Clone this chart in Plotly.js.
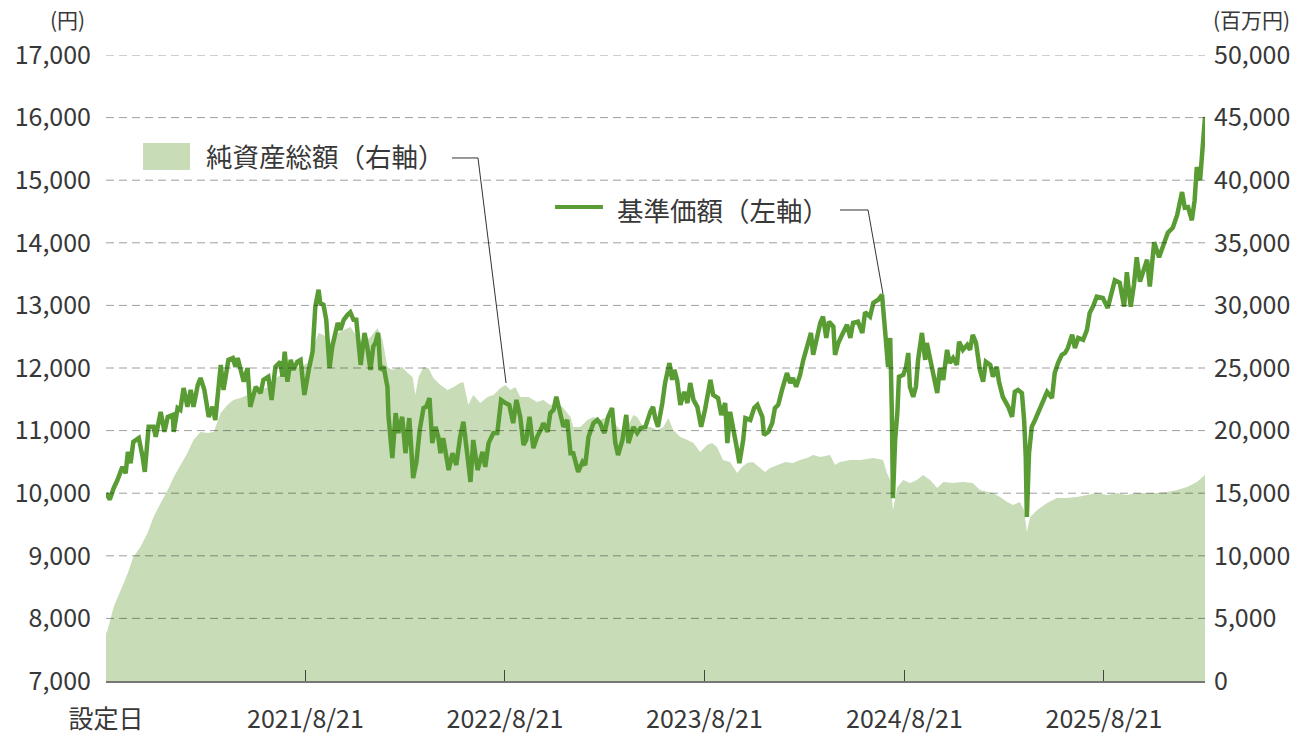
<!DOCTYPE html>
<html>
<head>
<meta charset="utf-8">
<script src="https://cdn.plot.ly/plotly-3.0.1.min.js"></script>
<style>
html,body{margin:0;padding:0;background:#fff;}
#chart{width:1298px;height:736px;}
</style>
</head>
<body>
<div id="chart"></div>
<script>
// 基準価額（左軸, 円）
const navDates = [
'2020-08-21','2020-08-28','2020-09-04','2020-09-11','2020-09-20','2020-09-26','2020-09-30','2020-10-05','2020-10-10','2020-10-20',
'2020-10-27','2020-10-31','2020-11-07','2020-11-16','2020-11-20','2020-11-29','2020-12-06','2020-12-12','2020-12-21','2020-12-23',
'2020-12-30','2021-01-04','2021-01-10','2021-01-17','2021-01-23','2021-01-28','2021-02-05','2021-02-10','2021-02-17','2021-02-25',
'2021-03-04','2021-03-09','2021-03-19','2021-03-24','2021-04-02','2021-04-10','2021-04-15','2021-04-19','2021-04-30','2021-05-07',
'2021-05-12','2021-05-22','2021-05-31','2021-06-05','2021-06-14','2021-06-20','2021-06-27','2021-07-06','2021-07-10','2021-07-14',
'2021-07-19','2021-07-25','2021-07-30','2021-08-06','2021-08-12','2021-08-19','2021-08-27','2021-09-03','2021-09-08','2021-09-14',
'2021-09-17','2021-09-23','2021-09-28','2021-10-04','2021-10-09','2021-10-15','2021-10-19','2021-10-24','2021-10-30','2021-11-06',
'2021-11-11','2021-11-17','2021-11-22','2021-11-30','2021-12-07','2021-12-12','2021-12-18','2021-12-23','2021-12-27','2022-01-01',
'2022-01-05','2022-01-11','2022-01-18','2022-01-20','2022-01-27','2022-02-02','2022-02-07','2022-02-14','2022-02-20','2022-02-27',
'2022-03-06','2022-03-12','2022-03-18','2022-03-25','2022-03-30','2022-04-05','2022-04-10','2022-04-16','2022-04-21','2022-04-25',
'2022-04-30','2022-05-10','2022-05-17','2022-05-24','2022-05-31','2022-06-06','2022-06-13','2022-06-19','2022-06-24','2022-07-02',
'2022-07-11','2022-07-16','2022-07-22','2022-07-31','2022-08-07','2022-08-14','2022-08-22','2022-08-29','2022-09-05','2022-09-11',
'2022-09-18','2022-09-24','2022-09-29','2022-10-05','2022-10-12','2022-10-19','2022-10-27','2022-10-30','2022-11-07','2022-11-12',
'2022-11-18','2022-11-23','2022-11-30','2022-12-06','2022-12-13','2022-12-19','2022-12-24','2023-01-02','2023-01-10','2023-01-15',
'2023-01-21','2023-01-30','2023-02-06','2023-02-11','2023-02-19','2023-02-26','2023-03-05','2023-03-11','2023-03-16','2023-03-24',
'2023-03-31','2023-04-04','2023-04-13','2023-04-20','2023-04-26','2023-05-05','2023-05-14','2023-05-19','2023-05-23','2023-05-28',
'2023-06-05','2023-06-10','2023-06-18','2023-06-23','2023-06-27','2023-07-02','2023-07-08','2023-07-15','2023-07-21','2023-07-26',
'2023-08-01','2023-08-08','2023-08-15','2023-08-22','2023-09-01','2023-09-06','2023-09-15','2023-09-21','2023-09-28','2023-10-02',
'2023-10-07','2023-10-15','2023-10-20','2023-10-24','2023-10-31','2023-11-04','2023-11-13','2023-11-20','2023-11-26','2023-12-05',
'2023-12-08','2023-12-16','2023-12-23','2023-12-28','2024-01-03','2024-01-10','2024-01-19','2024-01-25','2024-01-30','2024-02-05',
'2024-02-12','2024-02-18','2024-02-25','2024-03-03','2024-03-07','2024-03-14','2024-03-20','2024-03-25','2024-03-31','2024-04-05',
'2024-04-13','2024-04-16','2024-04-22','2024-04-29','2024-05-08','2024-05-14','2024-05-19','2024-05-28','2024-06-05','2024-06-10',
'2024-06-16','2024-06-19','2024-06-25','2024-07-04','2024-07-11','2024-07-13','2024-07-18','2024-07-22','2024-07-26','2024-07-29',
'2024-07-31','2024-08-04','2024-08-08','2024-08-11','2024-08-19','2024-08-24','2024-08-28','2024-08-31','2024-09-06','2024-09-11',
'2024-09-15','2024-09-22','2024-09-28','2024-10-01','2024-10-07','2024-10-12','2024-10-20','2024-10-25','2024-10-31','2024-11-07',
'2024-11-12','2024-11-18','2024-11-25','2024-11-29','2024-12-06','2024-12-14','2024-12-19','2024-12-24','2024-12-30','2025-01-06',
'2025-01-12','2025-01-17','2025-01-25','2025-01-30','2025-02-06','2025-02-10','2025-02-17','2025-02-27','2025-03-06','2025-03-11',
'2025-03-17','2025-03-24','2025-03-28','2025-03-31','2025-04-02','2025-04-06','2025-04-11','2025-04-17','2025-04-26','2025-05-03',
'2025-05-09','2025-05-18','2025-05-23','2025-05-29','2025-06-05','2025-06-11','2025-06-16','2025-06-24','2025-06-29','2025-07-05',
'2025-07-14','2025-07-21','2025-07-26','2025-08-01','2025-08-08','2025-08-19','2025-08-28','2025-09-10','2025-09-19','2025-09-27',
'2025-10-02','2025-10-09','2025-10-15','2025-10-20','2025-10-26','2025-11-02','2025-11-08','2025-11-13','2025-11-21','2025-11-30',
'2025-12-09','2025-12-16','2025-12-25','2026-01-02','2026-01-11','2026-01-16','2026-01-22','2026-01-29','2026-02-03','2026-02-07',
'2026-02-13','2026-02-16','2026-02-18','2026-02-20','2026-02-22'
];
const navValues = [
10000,9900,10080,10210,10420,10320,10660,10480,10820,10880,
10580,10340,11060,11060,10900,11300,10980,11220,11250,10980,
11360,11330,11680,11380,11650,11380,11730,11840,11650,11220,
11380,11170,12050,11650,12130,12160,12020,12160,11780,12000,
11380,11700,11600,11810,11860,11490,12020,12100,11860,12260,
11780,12130,11970,12100,12130,11570,11970,12260,12980,13250,
13040,13010,12770,12000,12340,12530,12720,12610,12770,12850,
12890,12770,12770,12050,12560,12340,11970,12340,12400,12560,
11970,12020,11700,11220,10560,11280,10960,11220,10640,11200,
10240,10500,11010,11360,11380,11520,10800,11060,10900,10640,
10880,10370,10640,10450,10900,11140,10580,10180,10850,10370,
10660,10420,10800,10960,10960,11490,11440,11410,11120,11490,
11220,10770,10850,11220,10720,10900,11040,11120,10980,11280,
11330,11540,11280,11060,11170,10640,10640,10340,10500,10450,
10900,11120,11170,11120,10960,11220,11360,10800,10610,10850,
11250,10800,11060,10960,11040,11060,11300,11380,11200,11060,
11440,11760,12080,11810,11970,11810,11410,11620,11440,11760,
11490,11380,11060,11330,11810,11570,11520,11250,11440,10800,
11300,10960,10690,10480,10850,11200,11170,11360,11410,11220,
10930,10980,11120,11360,11410,11650,11920,11760,11840,11700,
11890,12130,12340,12560,12210,12480,12720,12820,12480,12740,
12660,12210,12400,12530,12690,12480,12720,12740,12560,12890,
12850,12820,13040,13090,13170,12880,12450,12020,12480,11280,
9920,10850,11280,11860,11890,12020,12240,11700,11540,11700,
12130,12560,12130,12400,12130,11970,11600,12000,11810,12290,
12080,12160,12050,12420,12290,12370,12290,12530,12400,11970,
11780,12100,12050,11860,12020,11780,11540,11380,11220,11620,
11650,11600,11170,10580,9620,10640,11060,11170,11360,11490,
11620,11520,11920,12080,12210,12240,12320,12530,12320,12480,
12450,12610,12880,12980,13140,13120,12960,13400,13360,12980,
13530,12980,13330,13770,13380,13570,13730,13300,14010,13770,
14000,14160,14240,14440,14810,14560,14570,14360,14680,15210,
15000,15430,15480,15960,16010
];

// 純資産総額（右軸, 百万円）
const aumDates = [
'2020-08-21','2020-08-24','2020-09-04','2020-09-17','2020-09-30','2020-10-10','2020-10-23','2020-11-05','2020-11-16','2020-11-29',
'2020-12-12','2020-12-23','2021-01-04','2021-01-17','2021-01-28','2021-02-10','2021-02-23','2021-03-06','2021-03-19','2021-03-31',
'2021-04-11','2021-04-24','2021-05-07','2021-05-18','2021-05-31','2021-06-13','2021-06-24','2021-07-06','2021-07-19','2021-07-30',
'2021-08-12','2021-08-25','2021-09-05','2021-09-14','2021-09-23','2021-10-06','2021-10-19','2021-10-30','2021-11-11','2021-11-24',
'2021-12-05','2021-12-18','2021-12-31','2022-01-09','2022-01-18','2022-01-27','2022-02-05','2022-02-14','2022-02-24','2022-03-05',
'2022-03-10','2022-03-16','2022-03-25','2022-04-03','2022-04-12','2022-04-25','2022-05-08','2022-05-19','2022-05-31','2022-06-06',
'2022-06-15','2022-06-24','2022-07-07','2022-07-20','2022-07-31','2022-08-13','2022-08-22','2022-08-31','2022-09-09','2022-09-18',
'2022-10-03','2022-10-19','2022-10-30','2022-11-12','2022-11-25','2022-12-06','2022-12-19','2022-12-24','2023-01-06','2023-01-19',
'2023-01-30','2023-02-11','2023-02-24','2023-03-07','2023-03-20','2023-04-02','2023-04-13','2023-04-20','2023-05-01','2023-05-14',
'2023-05-27','2023-06-07','2023-06-16','2023-06-25','2023-07-08','2023-07-21','2023-08-01','2023-08-13','2023-08-26','2023-09-04',
'2023-09-13','2023-09-24','2023-10-07','2023-10-20','2023-10-29','2023-11-07','2023-11-18','2023-12-01','2023-12-10','2023-12-19',
'2024-01-01','2024-01-16','2024-01-30','2024-02-12','2024-02-25','2024-03-07','2024-03-20','2024-04-07','2024-04-16','2024-04-25',
'2024-05-14','2024-06-01','2024-06-25','2024-07-13','2024-07-20','2024-07-26','2024-07-31','2024-08-08','2024-08-19','2024-08-31',
'2024-09-13','2024-09-24','2024-10-07','2024-10-20','2024-10-31','2024-11-18','2024-12-06','2024-12-24','2025-01-06','2025-01-19',
'2025-01-30','2025-02-12','2025-02-25','2025-03-08','2025-03-20','2025-03-28','2025-04-02','2025-04-08','2025-04-21','2025-05-09',
'2025-05-27','2025-06-14','2025-07-03','2025-07-21','2025-08-08','2025-08-27','2025-09-14','2025-10-02','2025-10-20','2025-11-08',
'2025-11-26','2025-12-14','2026-01-02','2026-01-20','2026-02-07','2026-02-22'
];
const aumValues = [
3800,4070,5910,7270,8630,9900,10700,11820,13100,14220,
15250,16290,17250,18210,19250,19890,19810,19890,21400,22040,
22440,22600,22840,23000,23240,23480,24040,24440,24680,25000,
25080,25400,26680,27790,27630,27080,27790,28030,28270,27470,
27000,27470,28190,27240,25080,24840,25000,25080,24600,24280,
22840,24280,25080,25000,24200,23640,23240,23480,23800,23880,
22040,22840,22200,22680,22840,23400,23640,23240,23480,22680,
22680,22280,22440,22040,22200,21800,21090,20290,20290,20850,
21090,20850,21090,20690,20050,20290,21250,21090,20290,20290,
20050,20290,21010,20050,19490,19250,19010,18290,18850,19010,
18690,17650,17490,16610,17090,17410,17490,17010,16690,17010,
17250,17490,17410,17650,17810,18050,17890,18050,17250,17490,
17650,17650,17810,17650,16610,16050,13660,15500,16050,15810,
16050,16450,16050,15410,15890,15810,15890,15810,15250,15100,
15020,14700,14300,14060,14300,13660,11900,13100,13660,14220,
14620,14620,14700,14860,15020,14860,15020,14860,15020,15020,
15020,15100,15250,15500,15890,16450
];

const leftTicks = [7000,8000,9000,10000,11000,12000,13000,14000,15000,16000,17000];
const rightTicks = [0,5000,10000,15000,20000,25000,30000,35000,40000,45000,50000];
const xTickDates = ['2020-08-21','2021-08-21','2022-08-21','2023-08-21','2024-08-21','2025-08-21'];
const xTickLabels = ['設定日','2021/8/21','2022/8/21','2023/8/21','2024/8/21','2025/8/21'];
const seriesNames = ['純資産総額（右軸）','基準価額（左軸）'];
const unitLeft = '(円)';
const unitRight = '(百万円)';

const FONT = '"Noto Sans CJK JP", "Noto Sans", sans-serif';
const TXT = '#383838';
const GREEN = '#5a9c34';
const AREA = '#c8dcb8';

const traces = [
  {
    x: aumDates, y: aumValues, yaxis: 'y', xaxis: 'x',
    type: 'scatter', mode: 'lines', fill: 'tozeroy',
    line: {width: 0, color: AREA}, fillcolor: AREA,
    name: seriesNames[0], hoverinfo: 'skip'
  },
  {
    x: navDates, y: navValues, yaxis: 'y2', xaxis: 'x',
    type: 'scatter', mode: 'lines',
    line: {width: 4.5, color: GREEN, shape: 'linear'},
    name: seriesNames[1], hoverinfo: 'skip'
  }
];

const shapes = [];
leftTicks.slice(1).forEach(v => {
  shapes.push({type:'line', xref:'paper', yref:'y2', x0:0, x1:1, y0:v, y1:v,
    line:{color:'rgba(0,0,0,0.38)', width:1, dash:'8px,5px'}, layer:'above'});
});
// legend swatches
shapes.push({type:'rect', xref:'paper', yref:'paper', x0:0.0337, x1:0.0764, y0:0.8163, y1:0.8594,
  fillcolor: AREA, line:{width:0}});
shapes.push({type:'line', xref:'paper', yref:'paper', x0:0.4086, x1:0.4522, y0:0.7572, y1:0.7572,
  line:{color:GREEN, width:4}});
// leader lines
shapes.push({type:'path', xref:'paper', yref:'paper',
  path:'M 0.3148 0.8355 L 0.3385 0.8355 L 0.3640 0.4760', line:{color:'#333', width:1}});
shapes.push({type:'path', xref:'paper', yref:'paper',
  path:'M 0.6679 0.7524 L 0.6934 0.7524 L 0.7070 0.6182', line:{color:'#333', width:1}});

const annotations = [
  {xref:'paper', yref:'paper', x:0.0892, y:0.8387, xanchor:'left', yanchor:'middle', showarrow:false,
   text: seriesNames[0], font:{family:FONT, size:26.5, color:TXT}},
  {xref:'paper', yref:'paper', x:0.463, y:0.7524, xanchor:'left', yanchor:'middle', showarrow:false,
   text: seriesNames[1], font:{family:FONT, size:26.5, color:TXT}},
  {xref:'paper', yref:'paper', x:-0.0173, y:1.057, xanchor:'right', yanchor:'middle', showarrow:false,
   text: unitLeft, font:{family:FONT, size:21, color:TXT}},
  {xref:'paper', yref:'paper', x:1.0055, y:1.057, xanchor:'left', yanchor:'middle', showarrow:false,
   text: unitRight, font:{family:FONT, size:21, color:TXT}}
];

const yTickFont = {family: FONT, size: 25, color: TXT};
const xTickFont = {family: FONT, size: 25, color: TXT};

const layout = {
  width: 1298, height: 736,
  margin: {l:106, r:93, t:55, b:55, pad:0},
  paper_bgcolor: '#ffffff', plot_bgcolor: '#ffffff',
  showlegend: false,
  font: {family: FONT, color: TXT},
  xaxis: {
    type: 'date', range: ['2020-08-21', '2026-02-22'],
    tickmode: 'array', tickvals: xTickDates, ticktext: xTickLabels,
    ticks: 'inside', ticklen: 11, tickwidth: 1, tickcolor: '#444',
    showline: true, linecolor: '#777', linewidth: 1.5,
    showgrid: false, zeroline: false, tickfont: xTickFont,
    ticklabelstandoff: 15, fixedrange: true
  },
  yaxis: {
    side: 'right', range: [0, 50000],
    tickmode: 'array', tickvals: rightTicks, tickformat: ',d',
    showgrid: false, zeroline: false, showline: false, ticks: '',
    tickfont: yTickFont, ticklabelstandoff: 8, fixedrange: true
  },
  yaxis2: {
    overlaying: 'y', side: 'left', range: [7000, 17000],
    tickmode: 'array', tickvals: leftTicks, tickformat: ',d',
    showgrid: false, zeroline: false, showline: false, ticks: '',
    tickfont: yTickFont, ticklabelstandoff: 14, fixedrange: true
  },
  shapes: shapes,
  annotations: annotations
};

Plotly.newPlot('chart', traces, layout, {displayModeBar: false, staticPlot: true});
</script>
</body>
</html>
